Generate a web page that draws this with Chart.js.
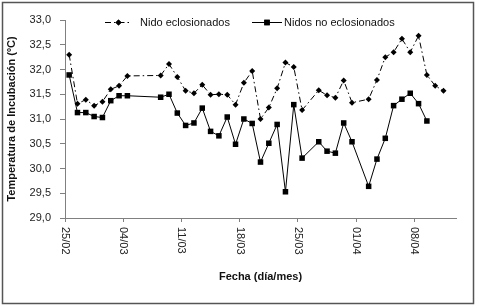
<!DOCTYPE html>
<html>
<head>
<meta charset="utf-8">
<script src="https://cdn.jsdelivr.net/npm/chart.js@4"></script>
<style>
  html, body { margin: 0; padding: 0; background: #fff; }
  canvas { display: block; }
</style>
</head>
<body>
<canvas id="c" width="479" height="308"></canvas>
<script>
// ===== Temperatura de incubación: nidos eclosionados vs no eclosionados =====
const fechas = ['25/02','26/02','27/02','28/02','01/03','02/03','03/03','04/03',
    '08/03','09/03','10/03','11/03','12/03','13/03','14/03','15/03','16/03','17/03',
    '18/03','19/03','20/03','21/03','22/03','23/03','24/03','25/03',
    '27/03','28/03','29/03','30/03','31/03',
    '02/04','03/04','04/04','05/04','06/04','07/04','08/04','09/04','10/04','11/04'];
const nidoEclosionados = [32.30, 31.31, 31.39, 31.27, 31.35, 31.60, 31.67, 31.87,
    31.88, 32.11, 31.85, 31.57, 31.52, 31.69, 31.49, 31.50, 31.49, 31.29,
    31.73, 31.97, 31.00, 31.23, 31.62, 32.14, 32.05, 31.18,
    31.58, 31.48, 31.43, 31.78, 31.33,
    31.40, 31.79, 32.25, 32.35, 32.62, 32.35, 32.68, 31.89, 31.67, 31.57];
const nidosNoEclosionados = [31.89, 31.13, 31.13, 31.05, 31.03, 31.37, 31.47, 31.47,
    31.44, 31.50, 31.12, 30.87, 30.92, 31.22, 30.75, 30.66, 31.04, 30.49,
    31.00, 30.91, 30.13, 30.51, 30.89, 29.53, 31.29, 30.21,
    30.54, 30.35, 30.31, 30.92, 30.54,
    29.64, 30.19, 30.61, 31.27, 31.40, 31.52, 31.31, 30.96, null, null];
const ticksFechas = ['25/02','04/03','11/03','18/03','25/03','01/04','08/04'];
const nombres = ['Nido eclosionados', 'Nidos no eclosionados'];

const FONT = "'Liberation Sans', Arial, sans-serif";
const AXIS = '#808080';

// days since 25/02 (non-leap year)
function dia(f) {
    const [d, m] = f.split('/').map(Number);
    return (Date.UTC(2007, m - 1, d) - Date.UTC(2007, 1, 25)) / 86400000;
}
// points sit in the middle of their day
const serie = vals => fechas.map((f, i) => ({ x: dia(f) + 0.5, y: vals[i] })).filter(p => p.y != null);

const fmtTemp = v => v.toFixed(1).replace('.', ',');
const fmtFecha = v => ticksFechas.find(f => dia(f) === v) || '';

// outer frame
const marco = {
    id: 'marco',
    afterDraw(chart) {
        const ctx = chart.ctx;
        ctx.save();
        ctx.strokeStyle = '#555';
        ctx.lineWidth = 1.5;
        ctx.strokeRect(2.5, 2.5, 471, 301);
        ctx.restore();
    }
};

// date labels read top to bottom
const etiquetasX = {
    id: 'etiquetasX',
    afterDraw(chart) {
        const sc = chart.scales.x, ctx = chart.ctx;
        ctx.save();
        ctx.font = '11px ' + FONT;
        ctx.fillStyle = '#222';
        ctx.textAlign = 'left';
        ctx.textBaseline = 'middle';
        sc.ticks.forEach(t => {
            const x = sc.getPixelForValue(t.value);
            ctx.save();
            ctx.translate(x, sc.top + 9);
            ctx.rotate(Math.PI / 2);
            ctx.fillText(fmtFecha(t.value), 0, 0);
            ctx.restore();
        });
        ctx.restore();
    }
};

// legend: line sample + marker + name
const leyenda = {
    id: 'leyenda',
    afterDraw(chart) {
        const ctx = chart.ctx;
        const y = 22.5;
        const items = [{ ds: 0, x0: 105, x1: 132, tx: 140 }, { ds: 1, x0: 252, x1: 282, tx: 284 }];
        ctx.save();
        ctx.font = '11px ' + FONT;
        ctx.textBaseline = 'middle';
        items.forEach(it => {
            const ds = chart.data.datasets[it.ds];
            ctx.strokeStyle = '#000';
            ctx.lineWidth = 1;
            ctx.setLineDash(ds.borderDash || []);
            ctx.beginPath();
            ctx.moveTo(it.x0, y);
            ctx.lineTo(it.x1, y);
            ctx.stroke();
            ctx.setLineDash([]);
            Chart.helpers.drawPoint(ctx, { pointStyle: ds.pointStyle, radius: ds.pointRadius, borderWidth: 0 }, (it.x0 + it.x1) / 2, y);
            ctx.fillStyle = '#000';
            ctx.fill();
            ctx.fillStyle = '#111';
            ctx.fillText(ds.label, it.tx, y + 0.5);
        });
        ctx.restore();
    }
};

new Chart(document.getElementById('c'), {
    type: 'line',
    data: {
        datasets: [
            { label: nombres[0], data: serie(nidoEclosionados), borderColor: '#000', borderWidth: 1,
              borderDash: [6, 3, 1.5, 3], pointStyle: 'rectRot', pointRadius: 3,
              pointBackgroundColor: '#000', pointBorderColor: '#000', pointBorderWidth: 0 },
            { label: nombres[1], data: serie(nidosNoEclosionados), borderColor: '#000', borderWidth: 1,
              pointStyle: 'rect', pointRadius: 3.9,
              pointBackgroundColor: '#000', pointBorderColor: '#000', pointBorderWidth: 0 }
        ]
    },
    options: {
        responsive: false,
        animation: false,
        layout: { padding: { left: 0, right: 23, top: 20, bottom: 0 } },
        plugins: { legend: { display: false }, tooltip: { enabled: false } },
        scales: {
            x: {
                type: 'linear', min: 0, max: 47,
                afterBuildTicks: sc => { sc.ticks = ticksFechas.map(f => ({ value: dia(f) })); },
                afterFit: sc => { sc.height = 90; },
                ticks: { display: false, callback: v => fmtFecha(v) },
                grid: { display: true, drawOnChartArea: false, drawTicks: true, tickLength: 4, color: AXIS },
                border: { display: true, color: AXIS, width: 1 },
                title: { display: true, text: 'Fecha (día/mes)', color: '#111',
                         font: { family: FONT, size: 11, weight: 'bold' }, padding: { top: 0, bottom: 24 } }
            },
            y: {
                min: 29, max: 33,
                afterFit: sc => { sc.width = 65; },
                ticks: { stepSize: 0.5, padding: 9, color: '#222', font: { family: FONT, size: 11 },
                         callback: v => fmtTemp(v) },
                grid: { display: true, drawOnChartArea: false, drawTicks: true, tickLength: 5, color: AXIS },
                border: { display: true, color: AXIS, width: 1 },
                title: { display: true, text: 'Temperatura de Incubación (ºC)', color: '#111',
                         font: { family: FONT, size: 11, weight: 'bold' }, padding: { top: 5, bottom: 0 } }
            }
        }
    },
    plugins: [marco, etiquetasX, leyenda]
});
</script>
</body>
</html>
